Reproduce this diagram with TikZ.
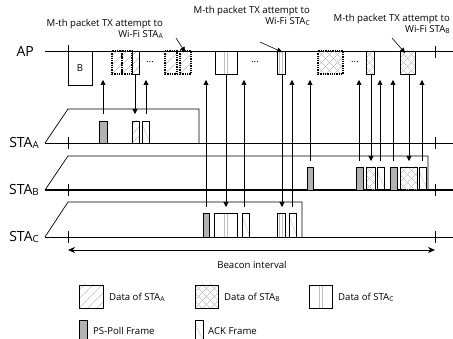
\documentclass[tikz,border=0pt]{standalone}
\usepackage{fontspec}
\setmainfont{Open Sans}
\usetikzlibrary{arrows.meta}

% frame fillings
\newcommand{\patA}[4]{% data of STA_A: x1, x2, top, bottom
  \begin{scope}
    \clip (#1,#3) rectangle (#2,#4);
    \foreach \k in {-36,-27,...,36}
      {\draw[hatch] ({#1+\k},#4) -- ++(40,-40);}
  \end{scope}}
\newcommand{\patB}[4]{% data of STA_B
  \begin{scope}
    \clip (#1,#3) rectangle (#2,#4);
    \foreach \k in {-40,-32,...,40}
      {\draw[hatch] ({#1+\k},#4) -- ++(40,-40);
       \draw[hatch] ({#1+\k},#3) -- ++(40,40);}
  \end{scope}}
\newcommand{\patC}[4]{% data of STA_C
  \draw[hatch] ({(#1+#2)/2-1.5},#3) -- ({(#1+#2)/2-1.5},#4);
  \draw[hatch] ({(#1+#2)/2+1.5},#3) -- ({(#1+#2)/2+1.5},#4);}
\newcommand{\patK}[4]{% ACK
  \begin{scope}
    \clip (#1,#3) rectangle (#2,#4);
    \draw[hatch] (#1,{#3+3}) -- (#2,{#4-3});
  \end{scope}}
\newcommand{\sub}[1]{\raisebox{-0.2ex}{\scalebox{0.7}{#1}}}

\tikzset{
  frm/.style={draw, line width=0.6pt},
  fail/.style={draw, densely dotted, line width=1.3pt},
  hatch/.style={gray!50, line width=0.4pt},
  poll/.style={draw, fill=gray!60, line width=0.6pt},
  sig/.style={-{Triangle[length=5pt,width=5pt]}, line width=0.6pt},
  lbl/.style={font=\fontsize{9.6}{11}\selectfont, inner sep=0pt},
  big/.style={font=\fontsize{14}{16}\selectfont, inner sep=0pt},
}

\begin{document}
\begin{tikzpicture}[x=1pt,y=-1pt]
  \useasboundingbox (0,0) rectangle (453,339);
  \def\yAP{51} \def\bAP{74} % AP line, frame bottom
  \def\yA{143} \def\yB{190} \def\yC{237} % STA lines
  \def\tA{109} \def\tB{156} \def\tC{202} % STA tops

  % time lines
  \node[big, anchor=east] (ap) at (34,\yAP) {AP};
  \node[big, anchor=east] (stA) at (39,\yA) {STA\sub{A}};
  \node[big, anchor=east] (stB) at (39,\yB) {STA\sub{B}};
  \node[big, anchor=east] (stC) at (39,\yC) {STA\sub{C}};
  \draw[line width=0.8pt] (45,\yAP) -- (453,\yAP);
  \draw[line width=0.8pt] (45,\yA) -- (453,\yA);
  \draw[line width=1.2pt] (45,\yB) -- (453,\yB);
  \draw[line width=0.8pt] (45,\yC) -- (453,\yC);
  \draw[line width=0.7pt] (45,\yA) -- (68,\tA) -- (199,\tA) -- (199,\yA);
  \draw[line width=0.7pt] (45,\yB) -- (68,\tB) -- (428,\tB) -- (428,\yB);
  \draw[line width=0.7pt] (45,\yC) -- (68,\tC) -- (302,\tC) -- (302,\yC);
  \draw[line width=0.7pt] (435,46) -- (435,58);
  \foreach \y in {\yA,\yB,\yC}
    {\draw[line width=0.7pt] (68,{\y-6}) -- (68,{\y+6});
     \draw[line width=0.7pt] (435,{\y-6}) -- (435,{\y+6});}

  % signals
  \foreach \x in {103,146}
    {\draw[sig] (\x,114) -- (\x,80);}
  \foreach \x in {206,244,292}
    {\draw[sig] (\x,207) -- (\x,80);}
  \foreach \x in {310,359,380,393,422}
    {\draw[sig] (\x,161) -- (\x,80);}
  \draw[sig] (135,\bAP) -- (135,114);
  \foreach \x in {226,282}
    {\draw[sig] (\x,\bAP) -- (\x,207);}
  \foreach \x in {371,409}
    {\draw[sig] (\x,\bAP) -- (\x,161);}

  % AP frames
  \draw[frm] (68,45) -- (68,\yAP);
  \draw[frm] (68,\yAP) rectangle (92,85);
  \node[lbl] (bcn) at (80,68) {B};
  \foreach \xa/\xb in {112/122,122/132,165/177,180/191}
    {\patA{\xa}{\xb}{\yAP}{\bAP} \draw[fail] (\xa,\yAP) rectangle (\xb,\bAP);}
  \patA{132}{139}{\yAP}{\bAP} \draw[frm] (132,\yAP) rectangle (139,\bAP);
  \patC{215}{237}{\yAP}{\bAP} \draw[frm] (215,\yAP) rectangle (237,\bAP);
  \patC{277}{285}{\yAP}{\bAP} \draw[frm] (277,\yAP) rectangle (285,\bAP);
  \patB{318}{343}{\yAP}{\bAP} \draw[fail] (318,\yAP) rectangle (343,\bAP);
  \foreach \xa/\xb in {366/374,400/415}
    {\patB{\xa}{\xb}{\yAP}{\bAP} \draw[frm] (\xa,\yAP) rectangle (\xb,\bAP);}
  \node[lbl] (dA) at (150,62) {...};
  \node[lbl] (dC) at (255,62) {...};
  \node[lbl] (dB) at (355,62) {...};

  % STA_A frames
  \draw[poll] (99,121) rectangle (107,\yA);
  \patA{132}{139}{121}{\yA} \draw[frm] (132,121) rectangle (139,\yA);
  \patK{142}{149}{121}{\yA} \draw[frm] (142,121) rectangle (149,\yA);

  % STA_B frames
  \foreach \xa/\xb in {307/313,356/363,390/397}
    {\draw[poll] (\xa,167) rectangle (\xb,\yB);}
  \foreach \xa/\xb in {366/375,400/417}
    {\patB{\xa}{\xb}{167}{\yB} \draw[frm] (\xa,167) rectangle (\xb,\yB);}
  \foreach \xa/\xb in {377/384,419/426}
    {\patK{\xa}{\xb}{167}{\yB} \draw[frm] (\xa,167) rectangle (\xb,\yB);}

  % STA_C frames
  \draw[poll] (203,213) rectangle (209,\yC);
  \foreach \xa/\xb in {214/237,277/285}
    {\patC{\xa}{\xb}{213}{\yC} \draw[frm] (\xa,213) rectangle (\xb,\yC);}
  \foreach \xa/\xb in {242/249,289/296}
    {\patK{\xa}{\xb}{213}{\yC} \draw[frm] (\xa,213) rectangle (\xb,\yC);}

  % attempts
  \node[lbl, anchor=east, align=right] (tA) at (163,29) {M-th packet TX attempt to\\Wi-Fi STA\sub{A}};
  \node[lbl, anchor=east, align=right] (tC) at (310,15.5) {M-th packet TX attempt to\\Wi-Fi STA\sub{C}};
  \node[lbl, anchor=east, align=right] (tB) at (450,23.5) {M-th packet TX attempt to\\Wi-Fi STA\sub{B}};
  \draw[sig] (176,38) -- (185,52);
  \draw[sig] (260,42) -- (282,52);
  \draw[sig] (392,38) -- (405,53);

  % beacon interval
  \draw[{Stealth[length=7pt,width=6pt]}-{Stealth[length=7pt,width=6pt]}, line width=0.6pt]
    (68,250) -- (435,250);
  \node[lbl] (bi) at (252,265) {Beacon interval};

  % legend
  \patA{79}{103}{285}{308} \draw[frm] (79,285) rectangle (103,308);
  \node[lbl, anchor=west] (lgA) at (109,297) {Data of STA\sub{A}};
  \patB{195}{218}{285}{308} \draw[frm] (195,285) rectangle (218,308);
  \node[lbl, anchor=west] (lgB) at (224,297) {Data of STA\sub{B}};
  \patC{309}{332}{285}{308} \draw[frm] (309,285) rectangle (332,308);
  \node[lbl, anchor=west] (lgC) at (338,297) {Data of STA\sub{C}};
  \draw[poll] (79,320) rectangle (87,343);
  \node[lbl, anchor=west] (lgP) at (93,331) {PS-Poll Frame};
  \patK{195}{203}{320}{343} \draw[frm] (195,320) rectangle (203,343);
  \node[lbl, anchor=west] (lgK) at (208,331) {ACK Frame};
\end{tikzpicture}
\end{document}
